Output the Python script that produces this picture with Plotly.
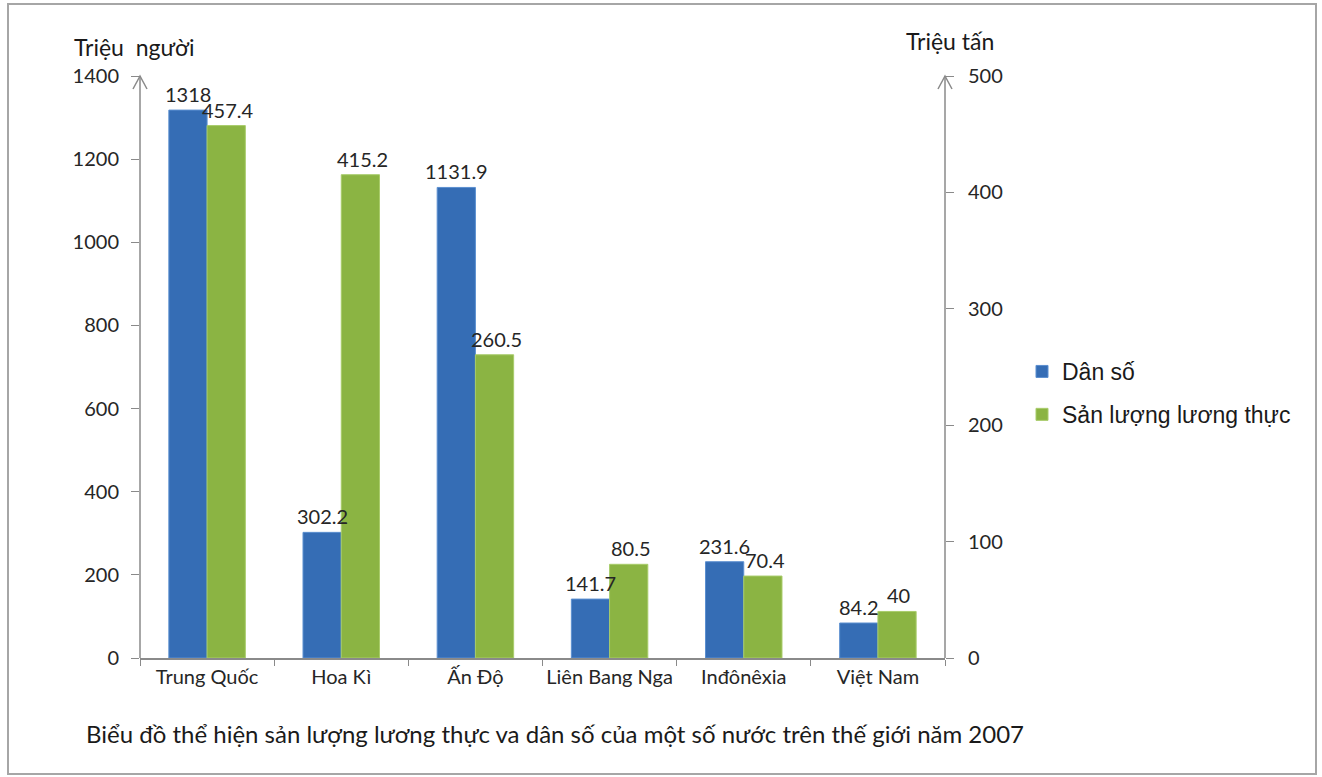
import plotly.graph_objects as go

countries = ["Trung Quốc", "Hoa Kì", "Ấn Độ", "Liên Bang Nga", "Inđônêxia", "Việt Nam"]
dan_so = [1318, 302.2, 1131.9, 141.7, 231.6, 84.2]
luong_thuc = [457.4, 415.2, 260.5, 80.5, 70.4, 40]
left_ticks = [0, 200, 400, 600, 800, 1000, 1200, 1400]
right_ticks = [0, 100, 200, 300, 400, 500]

W, H = 1322, 777
L, R, T, B = 140, 377, 76, 119
PW, PH = W - L - R, H - T - B

FONT = "Lato, Open Sans, sans-serif"
BLUE = "#356DB5"
GREEN = "#8BB443"
AXIS = "#8A8A8A"
TXT = "#262626"

fig = go.Figure()
fig.add_trace(go.Bar(
    x=countries, y=dan_so, name="Dân số", offsetgroup=1, yaxis="y", legendgroup="a",
    marker=dict(color=BLUE, line=dict(color="#5B8FD0", width=1)),
))
fig.add_trace(go.Bar(
    x=countries, y=luong_thuc, name="Sản lượng lương thực", offsetgroup=2, yaxis="y2",
    legendgroup="b",
    marker=dict(color=GREEN, line=dict(color="#A8CC6A", width=1)),
))

def px(x):
    return (x - L) / PW

def py(y):
    return (H - B - y) / PH

shapes = []
for ax_x in (L, L + PW):
    shapes.append(dict(type="line", xref="paper", yref="paper",
                       x0=px(ax_x), x1=px(ax_x), y0=0, y1=1,
                       line=dict(color=AXIS, width=1.5)))
    shapes.append(dict(type="path", xref="paper", yref="paper",
                       path=f"M {px(ax_x-7)},{py(T+13)} L {px(ax_x)},{py(T)} L {px(ax_x+7)},{py(T+13)}",
                       line=dict(color=AXIS, width=1.5)))
shapes.append(dict(type="rect", xref="paper", yref="paper",
                   x0=px(8), x1=px(1316), y0=py(774), y1=py(4),
                   line=dict(color="#A6A6A6", width=2)))

annotations = [
    dict(text="Triệu\u00a0\u00a0người", xref="paper", yref="paper", x=px(72), y=py(47),
         xanchor="left", yanchor="middle", showarrow=False,
         font=dict(family=FONT, size=23, color="#1a1a1a")),
    dict(text="Triệu tấn", xref="paper", yref="paper", x=px(904), y=py(41),
         xanchor="left", yanchor="middle", showarrow=False,
         font=dict(family=FONT, size=23, color="#1a1a1a")),
    dict(text="Biểu đồ thể hiện sản lượng lương thực va dân số của một số nước trên thế giới năm 2007",
         xref="paper", yref="paper", x=px(84), y=py(733),
         xanchor="left", yanchor="middle", showarrow=False,
         font=dict(family=FONT, size=24, color="#1a1a1a")),
]
for c, v in zip(countries, dan_so):
    annotations.append(dict(text=f"{v:g}", x=c, y=v, xref="x", yref="y",
                            xshift=-19, yshift=2, yanchor="bottom", showarrow=False,
                            font=dict(family=FONT, size=20, color=TXT)))
for c, v in zip(countries, luong_thuc):
    annotations.append(dict(text=f"{v:g}", x=c, y=v, xref="x", yref="y2",
                            xshift=21, yshift=2, yanchor="bottom", showarrow=False,
                            font=dict(family=FONT, size=20, color=TXT)))

fig.update_layout(
    width=W, height=H,
    margin=dict(l=L, r=R, t=T, b=B),
    paper_bgcolor="white", plot_bgcolor="white",
    barmode="group", bargap=0.43, bargroupgap=0,
    showlegend=True,
    legend=dict(x=px(1022), y=py(350), xanchor="left", yanchor="top",
                font=dict(family="Liberation Sans, Arial, sans-serif", size=23, color="#1a1a1a"),
                traceorder="grouped", tracegroupgap=10, itemwidth=30),
    xaxis=dict(showline=True, linecolor=AXIS, linewidth=1.5, ticks="outside",
               tickson="boundaries", ticklen=6, tickcolor=AXIS, tickangle=0,
               tickfont=dict(family=FONT, size=20, color=TXT), showgrid=False),
    yaxis=dict(range=[0, 1400], tickvals=left_ticks, showline=False, ticks="outside",
               ticklen=8, tickcolor=AXIS, showgrid=False, zeroline=False,
               ticklabelstandoff=8,
               tickfont=dict(family=FONT, size=20, color=TXT)),
    yaxis2=dict(range=[0, 500], tickvals=right_ticks, overlaying="y", side="right",
                showline=False, ticks="outside", ticklen=8, tickcolor=AXIS,
                showgrid=False, zeroline=False, ticklabelstandoff=10,
                tickfont=dict(family=FONT, size=20, color=TXT)),
    shapes=shapes,
    annotations=annotations,
)

fig.write_html("out.html", config={"displayModeBar": False},
               post_script="document.body.style.margin='0';")
